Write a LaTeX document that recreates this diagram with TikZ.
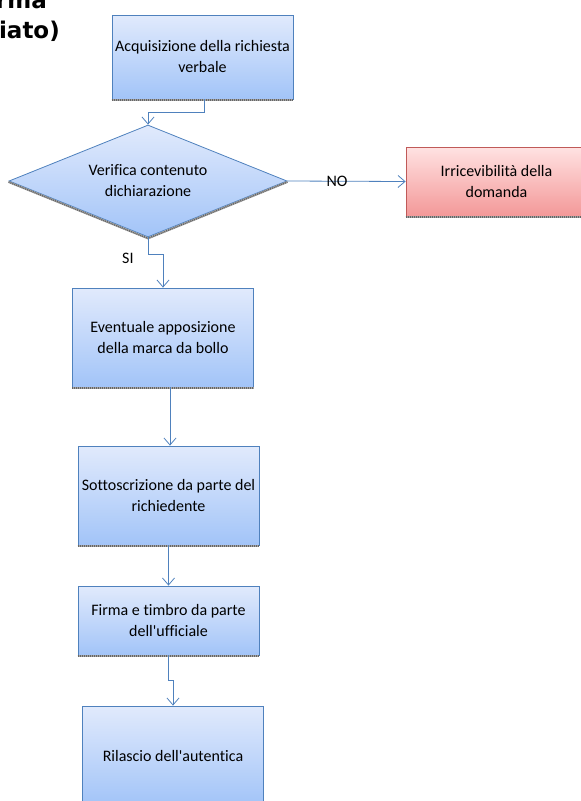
\documentclass[tikz,border=0pt]{standalone}
\usepackage{fontspec}
\setmainfont{Carlito}[Ligatures={TeX,NoCommon}]
\newfontfamily\titlefont{DejaVu Sans}
\usepackage{tikz}
\usetikzlibrary{shapes.geometric,arrows.meta}
\definecolor{bordoblu}{RGB}{79, 129, 189}
\definecolor{bluchiaro}{RGB}{225, 234, 252}
\definecolor{bluscuro}{RGB}{162, 196, 248}
\definecolor{bordorosso}{RGB}{192, 90, 88}
\definecolor{rosachiaro}{RGB}{255, 226, 226}
\definecolor{rosascuro}{RGB}{243, 152, 152}

\tikzset{
  passo/.style={rectangle, draw=bordoblu, line width=0.8pt, top color=bluchiaro, bottom color=bluscuro,
    align=center, font=\fontsize{16}{21}\selectfont, inner sep=0pt, minimum width=181, minimum height=99},
  scarto/.style={passo, draw=bordorosso, top color=rosachiaro, bottom color=rosascuro, minimum height=69},
  verifica/.style={diamond, aspect=2.5, draw=bordoblu, line width=0.8pt, top color=bluchiaro, bottom color=bluscuro,
    align=center, font=\fontsize{16}{21}\selectfont, inner sep=0pt, minimum width=278, minimum height=112},
  freccia/.style={draw=bordoblu, line width=0.8pt, -{Straight Barb[length=7pt,width=12pt]}},
  ombra/.style={draw=black!60, line width=2pt, dash pattern=on 1pt off 1pt, preaction={draw=black!35, solid, line width=2pt}},
  etichetta/.style={font=\fontsize{16}{21}\selectfont, inner sep=0pt},
  titolo/.style={anchor=base east, inner sep=0pt, font=\titlefont\bfseries\fontsize{23}{27}\selectfont}
}

\begin{document}
\begin{tikzpicture}[x=1pt, y=-1pt]
\useasboundingbox (0,0) rectangle (581,801);

% titolo (tagliato)
\node[titolo] (tit1) at (47,8) {rma};
\node[titolo] (tit2) at (60,38) {iato)};

% blocchi
\node[passo, minimum height=84] (acq) at (202.5,57) {Acquisizione della richiesta\\verbale};
\node[verifica] (ver) at (148,181) {Verifica contenuto\\dichiarazione};
\node[scarto] (irric) at (496.5,181.5) {Irricevibilità della\\domanda};
\node[passo] (bollo) at (163,337.5) {Eventuale apposizione\\della marca da bollo};
\node[passo] (sottoscr) at (168.5,495.5) {Sottoscrizione da parte del\\richiedente};
\node[passo, minimum height=69] (firma) at (168.5,620.5) {Firma e timbro da parte\\dell\textquotesingle ufficiale};
\node[passo] (rilascio) at (173,755.5) {Rilascio dell\textquotesingle autentica};

% ombre
\foreach \n in {acq,irric,bollo,sottoscr,firma}
    \draw[ombra] ([yshift=-1pt]\n.south west) -- ([yshift=-1pt]\n.south east);
\draw[ombra, line width=1.5pt] ([yshift=-1pt]ver.west) -- ([yshift=-1pt]ver.south) -- ([yshift=-1pt]ver.east);

% collegamenti
\draw[freccia] ([xshift=1.5pt]acq.south) -- ++(0,13) -| (ver.north);
\draw[freccia] (ver.south) -- ++(0,17) node[etichetta, left=14pt, yshift=-4pt] {SI} -| (bollo.north);
\draw[freccia] (ver.east) -- node[etichetta, pos=0.42] {NO} (irric.west);
\draw[freccia] ([xshift=1.5pt]sottoscr.north |- bollo.south) -- ([xshift=1.5pt]sottoscr.north);
\draw[freccia] (sottoscr.south) -- (firma.north);
\draw[freccia] (firma.south) -- ++(0,25) -| (rilascio.north);
\end{tikzpicture}
\end{document}
